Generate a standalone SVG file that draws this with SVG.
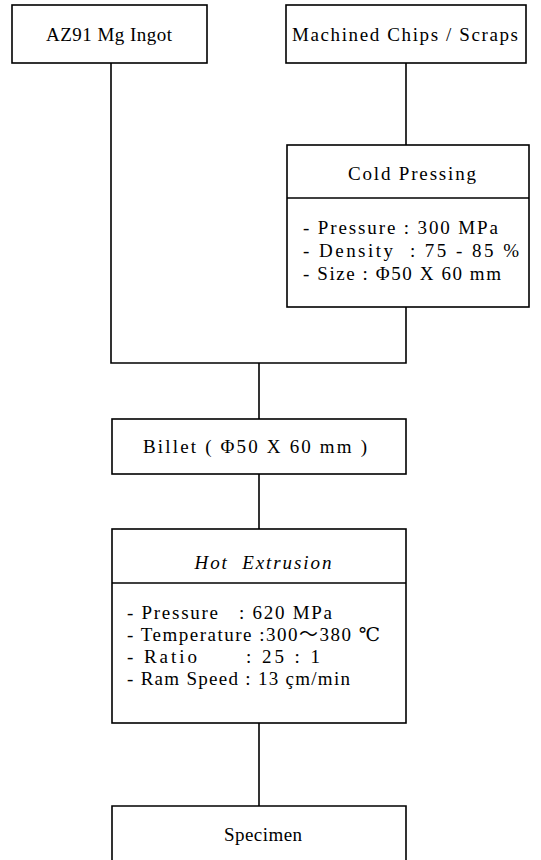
<svg xmlns="http://www.w3.org/2000/svg" width="541" height="860" viewBox="0 0 541 860">
<style>
.box{fill:#fff;stroke:#000;stroke-width:1.6}
.ln{fill:none;stroke:#000;stroke-width:1.6}
text{font-family:"Liberation Serif","DejaVu Serif","Noto Sans CJK KR",serif;font-size:19px;fill:#000;white-space:pre}
.c{text-anchor:middle}
</style>
<rect width="541" height="860" fill="#fff"/>
<g id="connectors">
<path class="ln" d="M111 63V363H406V307"/>
<path class="ln" d="M406 63V145"/>
<path class="ln" d="M259 363V419"/>
<path class="ln" d="M259 474V529"/>
<path class="ln" d="M259 723V806"/>
</g>
<g id="ingot">
<rect class="box" x="12" y="5" width="195" height="58"/>
<text class="c" x="109" y="41" textLength="126">AZ91 Mg Ingot</text>
</g>
<g id="chips">
<rect class="box" x="286" y="5" width="240" height="58"/>
<text class="c" x="405" y="41" textLength="226">Machined Chips / Scraps</text>
</g>
<g id="cold-pressing">
<rect class="box" x="287" y="145" width="242" height="162"/>
<path class="ln" d="M287 198H529"/>
<text class="c" x="412" y="180" textLength="128">Cold Pressing</text>
<text x="303" y="234" textLength="195" xml:space="preserve">- Pressure : 300 MPa</text>
<text x="303" y="257" textLength="216" xml:space="preserve">- Density  : 75 - 85 %</text>
<text x="303" y="280" textLength="198" xml:space="preserve">- Size : Φ50 X 60 mm</text>
</g>
<g id="billet">
<rect class="box" x="112" y="419" width="294" height="55"/>
<text class="c" x="255" y="453" textLength="224" xml:space="preserve">Billet ( Φ50 X 60 mm )</text>
</g>
<g id="hot-extrusion">
<rect class="box" x="112" y="529" width="294" height="194"/>
<path class="ln" d="M112 583H406"/>
<text class="c" x="263" y="569" font-style="italic" textLength="137" xml:space="preserve">Hot  Extrusion</text>
<text x="127" y="619" textLength="205" xml:space="preserve">- Pressure   : 620 MPa</text>
<text x="127" y="641" textLength="253" xml:space="preserve">- Temperature :300～380 ℃</text>
<text x="127" y="663" textLength="193" xml:space="preserve">- Ratio      : 25 : 1</text>
<text x="127" y="685" textLength="223" xml:space="preserve">- Ram Speed : 13 çm/min</text>
</g>
<g id="specimen">
<path class="box" d="M112 870V806H406V870"/>
<text class="c" x="263" y="841" textLength="78">Specimen</text>
</g>
</svg>
